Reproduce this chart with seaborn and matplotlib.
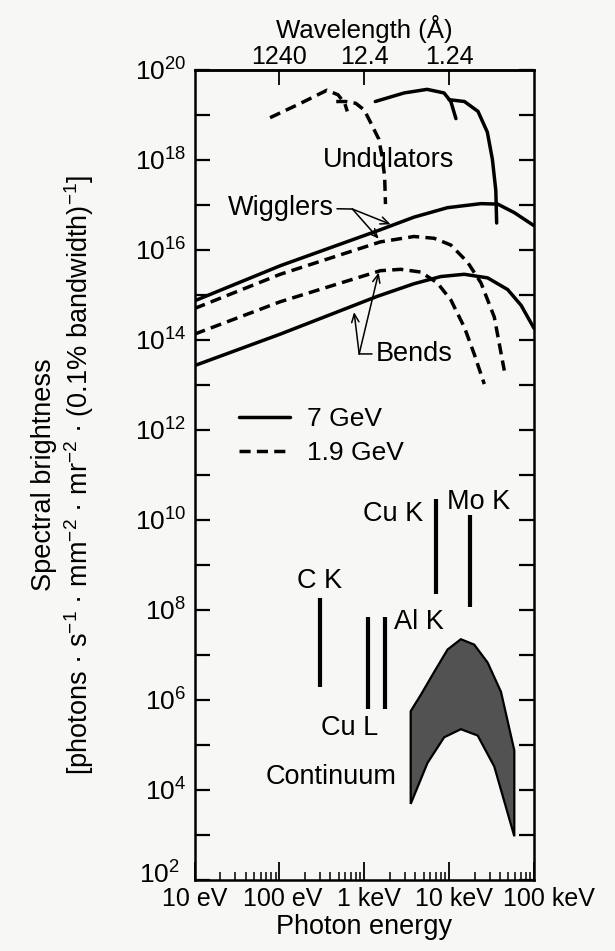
import numpy as np
import pandas as pd
import matplotlib
matplotlib.use("Agg")
import matplotlib.pyplot as plt
import seaborn as sns
from matplotlib.ticker import LogLocator, FuncFormatter, NullLocator, NullFormatter
from matplotlib.lines import Line2D
from matplotlib.transforms import ScaledTranslation

# ---------------- data (log10 photon energy [eV], log10 brightness) ----------------
und7a_logE = [3.13, 3.47, 3.74, 3.94, 4.02, 4.08]
und7a_logB = [19.30, 19.49, 19.57, 19.49, 19.30, 18.92]
und7b_logE = [4.00, 4.18, 4.34, 4.45, 4.51, 4.55, 4.56]
und7b_logB = [19.34, 19.30, 19.08, 18.62, 18.01, 17.32, 16.60]
und19a_logE = [1.89, 2.25, 2.56, 2.69, 2.77, 2.80]
und19a_logB = [18.94, 19.26, 19.55, 19.45, 19.26, 19.08]
und19b_logE = [2.67, 2.78, 2.90, 3.00, 3.07, 3.17, 3.21, 3.24, 3.25]
und19b_logB = [19.30, 19.30, 19.26, 19.11, 18.85, 18.47, 18.08, 17.63, 17.02]

wig7_logE = [1.0, 2.01, 3.19, 3.586, 3.98, 4.375, 4.572, 4.768, 5.0]
wig7_logB = [14.87, 15.65, 16.45, 16.73, 16.94, 17.03, 17.02, 16.83, 16.54]
wig19_logE = [1.0, 2.01, 3.19, 3.586, 3.823, 4.02, 4.217, 4.375, 4.532, 4.65]
wig19_logB = [14.70, 15.46, 16.18, 16.30, 16.26, 16.11, 15.73, 15.27, 14.51, 13.32]

bend7_logE = [1.0, 2.01, 3.154, 3.586, 3.902, 4.178, 4.454, 4.69, 4.848, 5.0]
bend7_logB = [13.43, 14.13, 14.97, 15.25, 15.41, 15.46, 15.38, 15.12, 14.77, 14.26]
bend19_logE = [1.0, 2.01, 3.19, 3.43, 3.665, 3.86, 4.02, 4.18, 4.295, 4.414]
bend19_logB = [14.13, 14.85, 15.54, 15.57, 15.51, 15.27, 14.89, 14.28, 13.69, 13.02]

# characteristic X-ray lines
line_names = ["C K", "Cu L", "Al K", "Cu K", "Mo K"]
line_logE = [2.475, 3.04, 3.25, 3.85, 4.24]
line_top_logB = [8.27, 7.84, 7.84, 10.47, 10.10]
line_bot_logB = [6.29, 5.79, 5.79, 8.36, 8.06]

# continuum band (upper and lower edges)
cont_up_logE = [3.547, 3.665, 3.823, 3.981, 4.138, 4.296, 4.454, 4.611, 4.768]
cont_up_logB = [5.75, 6.11, 6.62, 7.12, 7.35, 7.23, 6.83, 6.18, 4.88]
cont_lo_logE = [3.547, 3.745, 3.941, 4.138, 4.336, 4.532, 4.768]
cont_lo_logB = [3.69, 4.60, 5.17, 5.35, 5.21, 4.52, 2.97]

xtick_vals = [10, 100, 1000, 10000, 100000]
xtick_labels = ["10 eV", "100 eV", "1 keV", "10 keV", "100 keV"]
top_tick_vals = [100, 1000, 10000]
top_tick_labels = ["1240", "12.4", "1.24"]
beam_labels = ["7 GeV", "1.9 GeV"]

curves = [
    ("und7a", und7a_logE, und7a_logB, "7 GeV"),
    ("und7b", und7b_logE, und7b_logB, "7 GeV"),
    ("und19a", und19a_logE, und19a_logB, "1.9 GeV"),
    ("und19b", und19b_logE, und19b_logB, "1.9 GeV"),
    ("wig7", wig7_logE, wig7_logB, "7 GeV"),
    ("wig19", wig19_logE, wig19_logB, "1.9 GeV"),
    ("bend7", bend7_logE, bend7_logB, "7 GeV"),
    ("bend19", bend19_logE, bend19_logB, "1.9 GeV"),
]
rows = []
for name, le, lb, beam in curves:
    for i, (a, b) in enumerate(zip(le, lb)):
        rows.append(dict(curve=name, beam=beam, order=i, E=10 ** a, B=10 ** b))
df = pd.DataFrame(rows)

# ---------------- style ----------------
sns.set_theme(style="ticks")
plt.rcParams["font.family"] = ["Liberation Sans", "DejaVu Sans"]
plt.rcParams["mathtext.fontset"] = "custom"
plt.rcParams["mathtext.rm"] = "Liberation Sans"
plt.rcParams["mathtext.it"] = "Liberation Sans:italic"
plt.rcParams["mathtext.bf"] = "Liberation Sans:bold"
for k in ["text.color", "axes.labelcolor", "xtick.color", "ytick.color", "axes.edgecolor"]:
    plt.rcParams[k] = "black"
bg = "#f7f7f5"
FS = 19.5

fig = plt.figure(figsize=(6.15, 9.51), dpi=100, facecolor=bg)
ax = fig.add_axes([0.3163, 0.0747, 0.552, 0.8517])
ax.set_facecolor(bg)
ax.set_xscale("log")
ax.set_yscale("log")

dash = (0, (3.2, 1.8))
styles = {"7 GeV": "-", "1.9 GeV": dash}
for name, le, lb, beam in curves:
    sub = df[df.curve == name]
    sns.lineplot(data=sub, x="E", y="B", ax=ax, color="black", lw=2.5,
                 linestyle=styles[beam], sort=False, estimator=None, legend=False)

# X-ray lines
ax.vlines(10 ** np.array(line_logE), 10 ** np.array(line_bot_logB),
          10 ** np.array(line_top_logB), colors="black", lw=3.0)

# continuum band
poly_E = 10 ** np.array(cont_up_logE + cont_lo_logE[::-1])
poly_B = 10 ** np.array(cont_up_logB + cont_lo_logB[::-1])
ax.fill(poly_E, poly_B, facecolor="#525252", edgecolor="black", lw=1.6, zorder=3)

ax.set_xlim(10, 1e5)
ax.set_ylim(1e2, 1e20)

# ---------------- text labels ----------------
def P(le, lb):
    return (10 ** le, 10 ** lb)

ax.text(*P(3.29, 18.01), "Undulators", fontsize=FS, ha="center", va="center")
ax.text(*P(2.475, 8.64), "C K", fontsize=FS, ha="center", va="center")
ax.text(*P(2.83, 5.38), "Cu L", fontsize=FS, ha="center", va="center")
ax.text(*P(3.35, 7.74), "Al K", fontsize=FS, ha="left", va="center")
ax.text(*P(3.70, 10.13), "Cu K", fontsize=FS, ha="right", va="center")
ax.text(*P(4.35, 10.39), "Mo K", fontsize=FS, ha="center", va="center")
ax.text(*P(2.61, 4.28), "Continuum", fontsize=FS, ha="center", va="center")

thin = dict(color="black", lw=1.1, shrinkA=0, shrinkB=0)
# Wigglers
ax.annotate("Wigglers", xy=P(2.86, 16.91), xytext=P(2.64, 16.94), fontsize=FS,
            ha="right", va="center",
            arrowprops=dict(arrowstyle="-", **thin))
for tip in [(3.31, 16.57), (3.17, 16.25)]:
    ax.annotate("", xy=P(*tip), xytext=P(2.86, 16.91),
                arrowprops=dict(arrowstyle="->,head_length=0.5,head_width=0.22", **thin))
# Bends
ax.annotate("Bends", xy=P(2.94, 13.69), xytext=P(3.13, 13.69), fontsize=FS,
            ha="left", va="center",
            arrowprops=dict(arrowstyle="-", **thin))
for tip in [(2.88, 14.62), (3.17, 15.50)]:
    ax.annotate("", xy=P(*tip), xytext=P(2.94, 13.69),
                arrowprops=dict(arrowstyle="->,head_length=0.5,head_width=0.22", **thin))

# legend
handles = [Line2D([], [], color="black", lw=2.5, linestyle=styles[b]) for b in beam_labels]
ax.legend(handles, beam_labels, loc="center left", bbox_to_anchor=(0.13, 0.548),
          frameon=False, fontsize=19, handlelength=1.95, handletextpad=0.65,
          labelspacing=0.4, borderpad=0, borderaxespad=0)

# ---------------- axes / ticks ----------------
for s in ax.spines.values():
    s.set_linewidth(1.8)
    s.set_color("black")
    s.set_visible(True)

ax.yaxis.set_major_locator(LogLocator(base=10, subs=(1.0,), numticks=40))
ax.yaxis.set_minor_locator(NullLocator())
ax.yaxis.set_major_formatter(FuncFormatter(
    lambda v, p: (r"$10^{%d}$" % round(np.log10(v))) if round(np.log10(v)) % 2 == 0 else ""))
ax.set_xticks(xtick_vals, xtick_labels)
ax.xaxis.set_minor_locator(LogLocator(base=10, subs=np.arange(2, 10), numticks=40))
ax.xaxis.set_minor_formatter(NullFormatter())

ax.tick_params(axis="y", which="major", direction="in", length=11, width=1.6,
               left=True, right=True, labelsize=19, pad=6)
ax.tick_params(axis="x", which="major", direction="in", length=13, width=1.3,
               bottom=True, top=False, labelsize=18, pad=5)
ax.tick_params(axis="x", which="minor", direction="in", length=6, width=1.1,
               bottom=True, top=False)

secax = ax.secondary_xaxis("top")
secax.set_xticks(top_tick_vals, top_tick_labels)
secax.xaxis.set_minor_locator(NullLocator())
secax.tick_params(axis="x", which="major", direction="in", length=11, width=1.3,
                  labelsize=18, pad=1)
secax.spines["top"].set_linewidth(1.8)
secax.set_xlabel("Wavelength (Å)", fontsize=18.5, labelpad=5)

ax.set_xlabel("Photon energy", fontsize=FS, labelpad=2)
ax.set_ylabel("Spectral brightness\n[photons · s$^{-1}$ · mm$^{-2}$ · mr$^{-2}$ · (0.1% bandwidth)$^{-1}$]",
              fontsize=19.5, linespacing=1.2)
ax.yaxis.set_label_coords(-0.29, 0.5)

# nudge tick labels like the reference (last bottom ones sit slightly right,
# lowest y label sits a touch higher and further left)
label_shift_px = [0, 3, 5, 5, 15]
fig.canvas.draw()
for tick, dx in zip(ax.xaxis.get_major_ticks(), label_shift_px):
    lab = tick.label1
    lab.set_transform(lab.get_transform() + ScaledTranslation(dx / 100, 0, fig.dpi_scale_trans))
for tick in ax.yaxis.get_major_ticks():
    if np.isclose(tick.get_loc(), 1e2):
        lab = tick.label1
        lab.set_transform(lab.get_transform() + ScaledTranslation(-6 / 100, 7 / 100, fig.dpi_scale_trans))

fig.savefig("out.png", dpi=100, facecolor=bg)
